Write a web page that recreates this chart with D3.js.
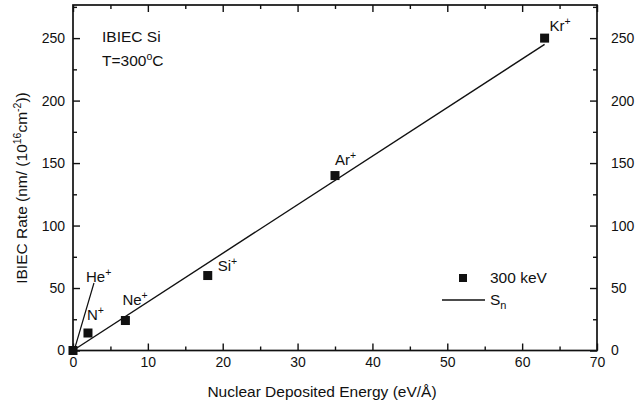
<!DOCTYPE html>
<html>
<head>
<meta charset="utf-8">
<script src="https://cdn.jsdelivr.net/npm/d3@7"></script>
<style>
  body { margin: 0; background: #fff; }
  svg text { font-family: "Liberation Sans", Arial, Helvetica, sans-serif; fill: #111; }
  .axis path { stroke: none; }
  .axis line { stroke: #111; stroke-width: 1.4; }
  .axis text { font-size: 14px; }
</style>
</head>
<body>
<svg id="chart" width="642" height="406"></svg>
<script>
// measured points (300 keV)
const energy = [0, 2, 7, 18, 35, 63]
const rate = [0, 14, 24, 60, 140, 250]
const ions = ['', 'N', 'Ne', 'Si', 'Ar', 'Kr']
// Sn line
const snEnergy = [0, 63]
const snRate = [0, 245]
// He+ pointer
const heEnergy = [0.2, 2.8]
const heRate = [1, 54]

const xTicks = [0, 10, 20, 30, 40, 50, 60, 70]
const yTicks = [0, 50, 100, 150, 200, 250]

const svg = d3.select('#chart')
const pLeft = 73, pRight = 597, pTop = 5, pBottom = 350.5

const x = d3.scaleLinear().domain([0, 70]).range([pLeft, pRight])
const y = d3.scaleLinear().domain([0, 276.5]).range([pBottom, pTop])

const minorX = d3.range(5, 70, 10)
const minorY = d3.range(25, 276, 50)

// axes, ticks pointing inward
svg.append('g').attr('class', 'axis')
  .attr('transform', `translate(0,${pBottom})`)
  .call(d3.axisBottom(x).tickValues(xTicks).tickSize(-7).tickPadding(7).tickFormat(d3.format('d')))
svg.append('g').attr('class', 'axis')
  .attr('transform', `translate(0,${pBottom})`)
  .call(d3.axisBottom(x).tickValues(minorX).tickSize(-4).tickFormat(''))
svg.append('g').attr('class', 'axis')
  .attr('transform', `translate(0,${pTop})`)
  .call(d3.axisTop(x).tickValues(xTicks).tickSize(-7).tickFormat(''))
svg.append('g').attr('class', 'axis')
  .attr('transform', `translate(0,${pTop})`)
  .call(d3.axisTop(x).tickValues(minorX).tickSize(-4).tickFormat(''))

svg.append('g').attr('class', 'axis')
  .attr('transform', `translate(${pLeft},0)`)
  .call(d3.axisLeft(y).tickValues(yTicks).tickSize(-7).tickPadding(8))
svg.append('g').attr('class', 'axis')
  .attr('transform', `translate(${pLeft},0)`)
  .call(d3.axisLeft(y).tickValues(minorY).tickSize(-4).tickFormat(''))
svg.append('g').attr('class', 'axis')
  .attr('transform', `translate(${pRight},0)`)
  .call(d3.axisRight(y).tickValues(yTicks).tickSize(-7).tickPadding(14))
svg.append('g').attr('class', 'axis')
  .attr('transform', `translate(${pRight},0)`)
  .call(d3.axisRight(y).tickValues(minorY).tickSize(-4).tickFormat(''))

svg.append('rect')
  .attr('x', pLeft).attr('y', pTop)
  .attr('width', pRight - pLeft).attr('height', pBottom - pTop)
  .attr('fill', 'none').attr('stroke', '#111').attr('stroke-width', 1.7)

// axis titles
svg.append('text')
  .attr('x', 322).attr('y', 397)
  .attr('text-anchor', 'middle').attr('font-size', 15.5)
  .text('Nuclear Deposited Energy (eV/Å)')

const yt = svg.append('text')
  .attr('transform', `translate(27,188) rotate(-90)`)
  .attr('text-anchor', 'middle').attr('font-size', 15.5)
yt.append('tspan').text('IBIEC Rate (nm/ (10')
yt.append('tspan').attr('dy', -6).attr('font-size', 10.5).text('16')
yt.append('tspan').attr('dy', 6).text('cm')
yt.append('tspan').attr('dy', -6).attr('font-size', 10.5).text('-2')
yt.append('tspan').attr('dy', 6).text('))')

// lines
const line = d3.line().x(d => x(d[0])).y(d => y(d[1]))
svg.append('path')
  .datum(d3.zip(snEnergy, snRate))
  .attr('d', line).attr('fill', 'none').attr('stroke', '#111').attr('stroke-width', 1.4)
svg.append('path')
  .datum(d3.zip(heEnergy, heRate))
  .attr('d', line).attr('fill', 'none').attr('stroke', '#111').attr('stroke-width', 1.2)

// markers
const sq = 9
svg.append('g').selectAll('rect')
  .data(d3.zip(energy, rate))
  .enter().append('rect')
  .attr('x', d => x(d[0]) - sq / 2)
  .attr('y', d => y(d[1]) - sq / 2)
  .attr('width', sq).attr('height', sq)
  .attr('fill', '#111')

// ion labels
const labelOffsets = { N: [-1, -13], Ne: [-3, -16], Si: [10, -5], Ar: [0, -11], Kr: [5, -7] }
function ionLabel(name, px, py) {
  const t = svg.append('text').attr('x', px).attr('y', py).attr('font-size', 15)
  t.append('tspan').text(name)
  t.append('tspan').attr('dy', -6).attr('font-size', 10.5).text('+')
}
ions.forEach((name, i) => {
  if (!name) return
  const o = labelOffsets[name]
  ionLabel(name, x(energy[i]) + o[0], y(rate[i]) + o[1])
})
ionLabel('He', x(heEnergy[1]) - 8, y(heRate[1]) - 1)

// annotations
svg.append('text').attr('x', 102).attr('y', 42).attr('font-size', 15.5).text('IBIEC Si')
const tt = svg.append('text').attr('x', 102).attr('y', 66).attr('font-size', 15.5)
tt.append('tspan').text('T=300')
tt.append('tspan').attr('dy', -6).attr('font-size', 10.5).text('o')
tt.append('tspan').attr('dy', 6).text('C')

// legend
svg.append('rect').attr('x', 459).attr('y', 274).attr('width', 8).attr('height', 8).attr('fill', '#111')
svg.append('text').attr('x', 490).attr('y', 283).attr('font-size', 15.5).text('300 keV')
svg.append('line').attr('x1', 442).attr('x2', 485).attr('y1', 300).attr('y2', 300)
  .attr('stroke', '#111').attr('stroke-width', 1.3)
const sn = svg.append('text').attr('x', 490).attr('y', 305).attr('font-size', 15.5)
sn.append('tspan').text('S')
sn.append('tspan').attr('dy', 4).attr('font-size', 11).text('n')
</script>
</body>
</html>
